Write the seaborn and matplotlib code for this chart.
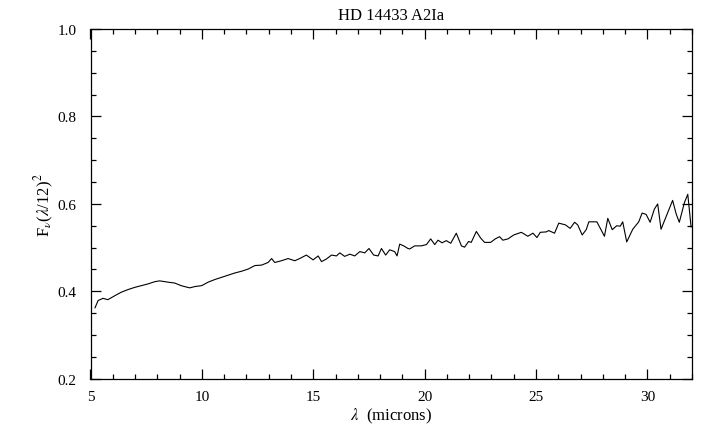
import numpy as np
import pandas as pd
import seaborn as sns
import matplotlib
matplotlib.use("Agg")
import matplotlib.pyplot as plt
from matplotlib.ticker import MultipleLocator

# Data
wavelength = [
    5.20, 5.34, 5.56, 5.78, 6.09, 6.38, 6.68, 6.98, 7.28, 7.58, 7.88, 8.10,
    8.48, 8.78, 9.07, 9.37, 9.46, 9.69, 9.99, 10.28, 10.58, 10.88, 11.18,
    11.48, 11.78, 12.08, 12.38, 12.68, 12.97, 13.13, 13.27, 13.57, 13.87,
    14.17, 14.39, 14.69, 14.99, 15.22, 15.37, 15.59, 15.82, 16.04, 16.19,
    16.41, 16.64, 16.86, 17.09, 17.31, 17.50, 17.71, 17.91, 18.06, 18.25,
    18.43, 18.65, 18.76, 18.88, 19.06, 19.25, 19.33, 19.55, 19.85, 20.08,
    20.27, 20.45, 20.60, 20.78, 20.97, 21.17, 21.42, 21.65, 21.79, 21.97,
    22.09, 22.32, 22.51, 22.69, 22.96, 23.17, 23.36, 23.51, 23.74, 24.00,
    24.34, 24.63, 24.86, 25.04, 25.19, 25.46, 25.57, 25.83, 26.02, 26.32,
    26.53, 26.73, 26.87, 27.07, 27.25, 27.37, 27.73, 28.07, 28.22, 28.42,
    28.62, 28.78, 28.89, 29.07, 29.34, 29.61, 29.76, 29.94, 30.12, 30.31,
    30.46, 30.61, 31.13, 31.29, 31.43, 31.66, 31.81, 31.96,
]
flux = [
    0.362, 0.379, 0.384, 0.381, 0.390, 0.398, 0.404, 0.409, 0.413, 0.417,
    0.422, 0.424, 0.421, 0.419, 0.413, 0.409, 0.408, 0.411, 0.413, 0.421,
    0.427, 0.432, 0.437, 0.442, 0.446, 0.451, 0.459, 0.460, 0.466, 0.475,
    0.466, 0.470, 0.475, 0.470, 0.475, 0.483, 0.472, 0.481, 0.468, 0.474,
    0.483, 0.481, 0.488, 0.480, 0.485, 0.481, 0.491, 0.488, 0.498, 0.483,
    0.481, 0.498, 0.483, 0.495, 0.491, 0.481, 0.508, 0.504, 0.498, 0.497,
    0.504, 0.504, 0.507, 0.520, 0.507, 0.517, 0.511, 0.516, 0.510, 0.533,
    0.504, 0.501, 0.514, 0.512, 0.537, 0.522, 0.512, 0.512, 0.520, 0.525,
    0.517, 0.520, 0.529, 0.535, 0.526, 0.533, 0.523, 0.535, 0.536, 0.539,
    0.533, 0.556, 0.552, 0.544, 0.558, 0.552, 0.529, 0.541, 0.559, 0.559,
    0.526, 0.567, 0.541, 0.550, 0.549, 0.559, 0.513, 0.542, 0.559, 0.579,
    0.576, 0.558, 0.588, 0.600, 0.542, 0.608, 0.577, 0.558, 0.603, 0.622,
    0.547,
]

title = "HD 14433 A2Ia"
xlabel = r"$\lambda$  (microns)"
ylabel = r"F$_{\nu}$($\lambda$/12)$^2$"
xticks = [5, 10, 15, 20, 25, 30]
yticks = [0.2, 0.4, 0.6, 0.8, 1.0]

df = pd.DataFrame({"wavelength": wavelength, "flux": flux})

sns.set_theme(style="ticks")
plt.rcParams["font.family"] = ["Liberation Serif", "DejaVu Serif"]
plt.rcParams["mathtext.fontset"] = "stix"
plt.rcParams["text.color"] = "black"
plt.rcParams["axes.labelcolor"] = "black"
plt.rcParams["xtick.labelcolor"] = "black"
plt.rcParams["ytick.labelcolor"] = "black"

fig = plt.figure(figsize=(7.2, 4.39), dpi=100)
ax = fig.add_axes([90.5 / 720, 1 - 379.8 / 439, (692 - 90.5) / 720, (379.8 - 30) / 439])

sns.lineplot(data=df, x="wavelength", y="flux", ax=ax, color="black",
             linewidth=0.8, estimator=None, sort=False)

ax.set_xlim(5, 32)
ax.set_ylim(0.2, 1.0)
ax.set_xticks(xticks)
ax.set_yticks(yticks)
ax.set_xticklabels([str(t) for t in xticks])
ax.set_yticklabels([f"{t:.1f}" for t in yticks])
ax.xaxis.set_minor_locator(MultipleLocator(1))
ax.yaxis.set_minor_locator(MultipleLocator(0.05))
ax.tick_params(which="both", direction="in", top=True, right=True,
               color="black", width=0.9, labelsize=11, labelcolor="black")
ax.tick_params(which="major", length=7)
ax.tick_params(which="minor", length=3.5)
ax.tick_params(axis="x", which="major", pad=8)
ax.tick_params(axis="y", which="major", pad=10)
for s in ax.spines.values():
    s.set_visible(True)
    s.set_color("black")
    s.set_linewidth(0.9)

ax.set_title(title, fontsize=12, pad=7, color="black")
ax.set_xlabel(xlabel, fontsize=12, labelpad=2, color="black")
ax.set_ylabel(ylabel, fontsize=12, labelpad=1, color="black")

fig.savefig("out.png", dpi=100, facecolor="white")
